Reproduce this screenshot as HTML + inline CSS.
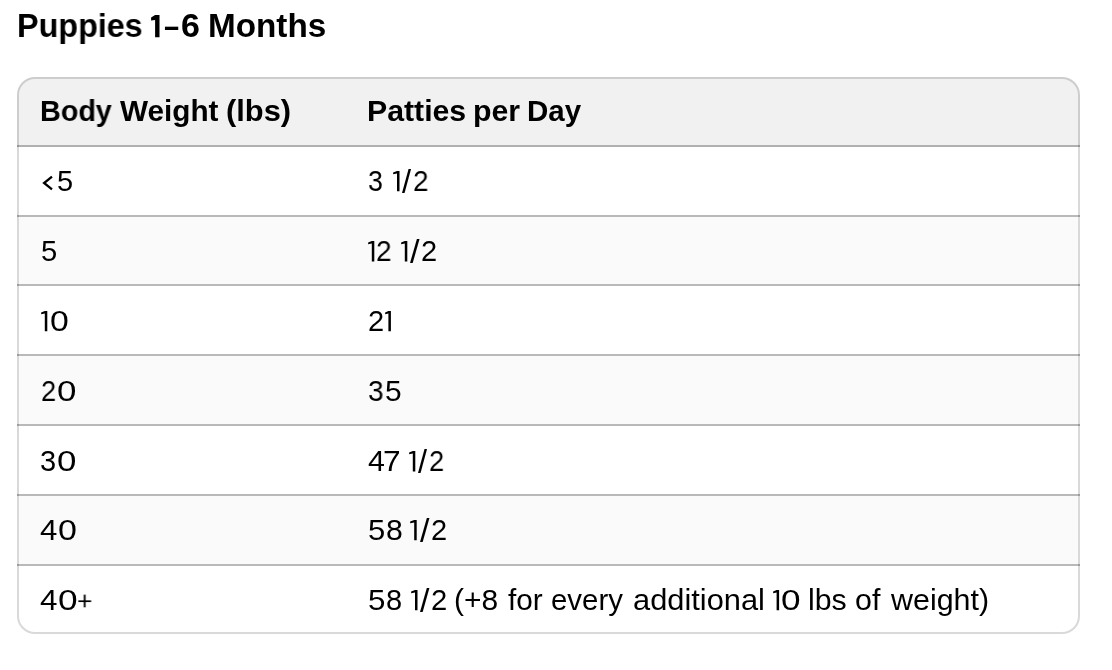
<!DOCTYPE html>
<html><head><meta charset="utf-8">
<style>
html,body{margin:0;padding:0;background:#fff;}
body{width:1112px;height:670px;position:relative;overflow:hidden;font-family:"Liberation Sans",sans-serif;color:#000;}
.t{position:absolute;white-space:nowrap;line-height:1;transform-origin:0 0;will-change:transform;}
h1{position:absolute;margin:0;left:19px;top:10px;font-size:32px;font-weight:bold;line-height:1;white-space:nowrap;}
.box{position:absolute;left:17px;top:77px;width:1059px;height:553px;border:2px solid rgba(0,0,0,0.15);border-radius:18px;overflow:hidden;background:linear-gradient(to bottom,#f1f1f1 0,#f1f1f1 68px,#fff 68px) border-box;background-origin:border-box;}
.hdr{position:absolute;left:0;top:0;width:100%;height:68px;background:#f1f1f1;}
.stripe{position:absolute;left:0;width:100%;background:#fafafa;}
.ln{position:absolute;left:17px;width:1063px;height:2px;background:rgba(0,0,0,0.275);}
.g{position:absolute;overflow:visible;}
.th{font-weight:bold;font-size:29px;}
.td{font-size:29px;}
</style></head><body>
<div class="box">
  
  <div class="stripe" style="top:138px;height:67px"></div>
  <div class="stripe" style="top:277px;height:68px"></div>
  <div class="stripe" style="top:417px;height:68px"></div>
</div>
<div class="ln" style="top:145px;background:rgba(0,0,0,0.31)"></div>
<div class="ln" style="top:215px"></div>
<div class="ln" style="top:284px"></div>
<div class="ln" style="top:354px"></div>
<div class="ln" style="top:424px"></div>
<div class="ln" style="top:494px"></div>
<div class="ln" style="top:564px"></div>

<div class="t" style="left:17.00px;top:10.00px;font-size:32.5px;font-weight:bold;transform:scaleX(0.9943)">Puppies</div>
<div class="t" style="left:164.20px;top:10.00px;font-size:32.5px;font-weight:bold;transform:scaleX(0.8375)">–</div>
<div class="t" style="left:181.33px;top:10.00px;font-size:32.5px;font-weight:bold;transform:scaleX(1.0461)">6</div>
<div class="t" style="left:208.40px;top:10.00px;font-size:32.5px;font-weight:bold;transform:scaleX(1.0232)">Months</div>
<div class="t" style="left:39.53px;top:97.00px;font-size:29px;font-weight:bold;transform:scaleX(0.9910)">Body</div>
<div class="t" style="left:119.60px;top:97.00px;font-size:29px;font-weight:bold;transform:scaleX(1.0240)">Weight</div>
<div class="t" style="left:225.83px;top:97.00px;font-size:29px;font-weight:bold;transform:scaleX(1.0635)">(lbs)</div>
<div class="t" style="left:366.80px;top:97.00px;font-size:29px;font-weight:bold;transform:scaleX(1.0428)">Patties</div>
<div class="t" style="left:472.80px;top:97.00px;font-size:29px;font-weight:bold;transform:scaleX(1.0429)">per</div>
<div class="t" style="left:526.91px;top:97.00px;font-size:29px;font-weight:bold;transform:scaleX(1.0174)">Day</div>
<div class="t" style="left:57.40px;top:167.00px;font-size:29px;font-weight:normal;transform:scaleX(0.9857)">5</div>
<div class="t" style="left:368.00px;top:167.00px;font-size:29px;font-weight:normal;transform:scaleX(0.9214)">3</div>
<div class="t" style="left:402.20px;top:166.00px;font-size:29px;font-weight:normal;transform:scale(1.1244,1.1136)">/</div>
<div class="t" style="left:413.13px;top:167.00px;font-size:29px;font-weight:normal;transform:scaleX(0.9600)">2</div>
<div class="t" style="left:40.80px;top:237.00px;font-size:29px;font-weight:normal;transform:scaleX(1.0071)">5</div>
<div class="t" style="left:376.00px;top:237.00px;font-size:29px;font-weight:normal;transform:scaleX(0.9643)">2</div>
<div class="t" style="left:410.05px;top:235.00px;font-size:29px;font-weight:normal;transform:scale(1.1848,1.1678)">/</div>
<div class="t" style="left:421.00px;top:237.00px;font-size:29px;font-weight:normal;transform:scaleX(1.0000)">2</div>
<div class="t" style="left:49.72px;top:307.00px;font-size:29px;font-weight:normal;transform:scaleX(1.1640)">0</div>
<div class="t" style="left:368.00px;top:307.00px;font-size:29px;font-weight:normal;transform:scaleX(1.0000)">2</div>
<div class="t" style="left:40.80px;top:377.00px;font-size:29px;font-weight:normal;transform:scaleX(0.9429)">2</div>
<div class="t" style="left:56.53px;top:377.00px;font-size:29px;font-weight:normal;transform:scaleX(1.2032)">0</div>
<div class="t" style="left:368.06px;top:377.00px;font-size:29px;font-weight:normal;transform:scaleX(0.9679)">3</div>
<div class="t" style="left:385.03px;top:377.00px;font-size:29px;font-weight:normal;transform:scaleX(1.0315)">5</div>
<div class="t" style="left:40.03px;top:447.00px;font-size:29px;font-weight:normal;transform:scaleX(0.9735)">3</div>
<div class="t" style="left:57.33px;top:447.00px;font-size:29px;font-weight:normal;transform:scaleX(1.2032)">0</div>
<div class="t" style="left:368.22px;top:447.00px;font-size:29px;font-weight:normal;transform:scaleX(1.0473)">4</div>
<div class="t" style="left:382.71px;top:447.00px;font-size:29px;font-weight:normal;transform:scaleX(1.0919)">7</div>
<div class="t" style="left:418.25px;top:445.00px;font-size:29px;font-weight:normal;transform:scale(1.1215,1.1678)">/</div>
<div class="t" style="left:428.86px;top:447.00px;font-size:29px;font-weight:normal;transform:scaleX(0.9420)">2</div>
<div class="t" style="left:40.08px;top:516.00px;font-size:29px;font-weight:normal;transform:scaleX(1.0751)">4</div>
<div class="t" style="left:58.03px;top:516.00px;font-size:29px;font-weight:normal;transform:scaleX(1.1718)">0</div>
<div class="t" style="left:367.62px;top:516.00px;font-size:29px;font-weight:normal;transform:scaleX(1.0707)">5</div>
<div class="t" style="left:385.69px;top:516.00px;font-size:29px;font-weight:normal;transform:scaleX(1.0419)">8</div>
<div class="t" style="left:419.60px;top:514.90px;font-size:29px;font-weight:normal;transform:scale(1.1744,1.1136)">/</div>
<div class="t" style="left:430.80px;top:516.00px;font-size:29px;font-weight:normal;transform:scaleX(1.0000)">2</div>
<div class="t" style="left:39.87px;top:586.00px;font-size:29px;font-weight:normal;transform:scaleX(1.0819)">4</div>
<div class="t" style="left:57.53px;top:586.00px;font-size:29px;font-weight:normal;transform:scaleX(1.2169)">0</div>
<div class="t" style="left:77.32px;top:589.16px;font-size:29px;font-weight:normal;transform:scale(0.9103,0.8728)">+</div>
<div class="t" style="left:367.56px;top:586.00px;font-size:29px;font-weight:normal;transform:scaleX(1.0803)">5</div>
<div class="t" style="left:386.20px;top:586.00px;font-size:29px;font-weight:normal;transform:scaleX(0.9786)">8</div>
<div class="t" style="left:420.19px;top:585.40px;font-size:29px;font-weight:normal;transform:scale(1.1696,1.1226)">/</div>
<div class="t" style="left:431.00px;top:586.00px;font-size:29px;font-weight:normal;transform:scaleX(1.0071)">2</div>
<div class="t" style="left:454.23px;top:586.00px;font-size:29px;font-weight:normal;transform:scaleX(1.0324)">(+8</div>
<div class="t" style="left:507.86px;top:586.00px;font-size:29px;font-weight:normal;transform:scaleX(1.0272)">for</div>
<div class="t" style="left:551.46px;top:586.00px;font-size:29px;font-weight:normal;transform:scaleX(1.0136)">every</div>
<div class="t" style="left:632.92px;top:586.00px;font-size:29px;font-weight:normal;transform:scaleX(1.0628)">additional</div>
<div class="t" style="left:781.26px;top:586.00px;font-size:29px;font-weight:normal;transform:scaleX(1.2106)">0</div>
<div class="t" style="left:808.40px;top:586.00px;font-size:29px;font-weight:normal;transform:scaleX(1.0457)">lbs</div>
<div class="t" style="left:854.92px;top:586.00px;font-size:29px;font-weight:normal;transform:scaleX(1.0492)">of</div>
<div class="t" style="left:890.72px;top:586.00px;font-size:29px;font-weight:normal;transform:scaleX(1.0489)">weight)</div>
<svg class="g" style="left:151.10px;top:14.50px" width="9.00" height="22.80"><polygon points="4.10,0.00 8.50,0.00 8.50,22.30 4.10,22.30 4.10,5.00 0.10,5.50 0.10,2.40" fill="#000"/></svg>
<svg class="g" style="left:43.10px;top:176.00px" width="10.10" height="14.50"><polyline points="9.00,0.70 1.10,7.00 9.00,13.30" fill="none" stroke="#000" stroke-width="2.3"/></svg>
<svg class="g" style="left:392.70px;top:170.60px" width="7.00" height="20.80"><polygon points="4.00,0.10 6.50,0.10 6.50,20.30 4.00,20.30 4.00,2.40 0.15,3.20 0.15,1.55" fill="#000"/></svg>
<svg class="g" style="left:368.10px;top:240.60px" width="6.80" height="20.90"><polygon points="3.80,0.10 6.30,0.10 6.30,20.40 3.80,20.40 3.80,2.40 0.15,3.20 0.15,1.55" fill="#000"/></svg>
<svg class="g" style="left:400.90px;top:240.60px" width="6.80" height="20.90"><polygon points="3.80,0.10 6.30,0.10 6.30,20.40 3.80,20.40 3.80,2.40 0.15,3.20 0.15,1.55" fill="#000"/></svg>
<svg class="g" style="left:40.70px;top:310.60px" width="6.80" height="20.70"><polygon points="3.80,0.10 6.30,0.10 6.30,20.20 3.80,20.20 3.80,2.40 0.15,3.20 0.15,1.55" fill="#000"/></svg>
<svg class="g" style="left:385.10px;top:310.60px" width="6.40" height="20.70"><polygon points="3.40,0.10 5.90,0.10 5.90,20.20 3.40,20.20 3.40,2.40 0.15,3.20 0.15,1.55" fill="#000"/></svg>
<svg class="g" style="left:408.60px;top:450.60px" width="6.80" height="20.90"><polygon points="3.80,0.10 6.30,0.10 6.30,20.40 3.80,20.40 3.80,2.40 0.15,3.20 0.15,1.55" fill="#000"/></svg>
<svg class="g" style="left:410.40px;top:519.50px" width="7.20" height="20.80"><polygon points="4.20,0.10 6.70,0.10 6.70,20.30 4.20,20.30 4.20,2.40 0.15,3.20 0.15,1.55" fill="#000"/></svg>
<svg class="g" style="left:410.50px;top:589.70px" width="7.00" height="20.70"><polygon points="4.00,0.10 6.50,0.10 6.50,20.20 4.00,20.20 4.00,2.40 0.15,3.20 0.15,1.55" fill="#000"/></svg>
<svg class="g" style="left:772.90px;top:589.70px" width="6.60" height="20.70"><polygon points="3.60,0.10 6.10,0.10 6.10,20.20 3.60,20.20 3.60,2.40 0.15,3.20 0.15,1.55" fill="#000"/></svg>
</body></html>
